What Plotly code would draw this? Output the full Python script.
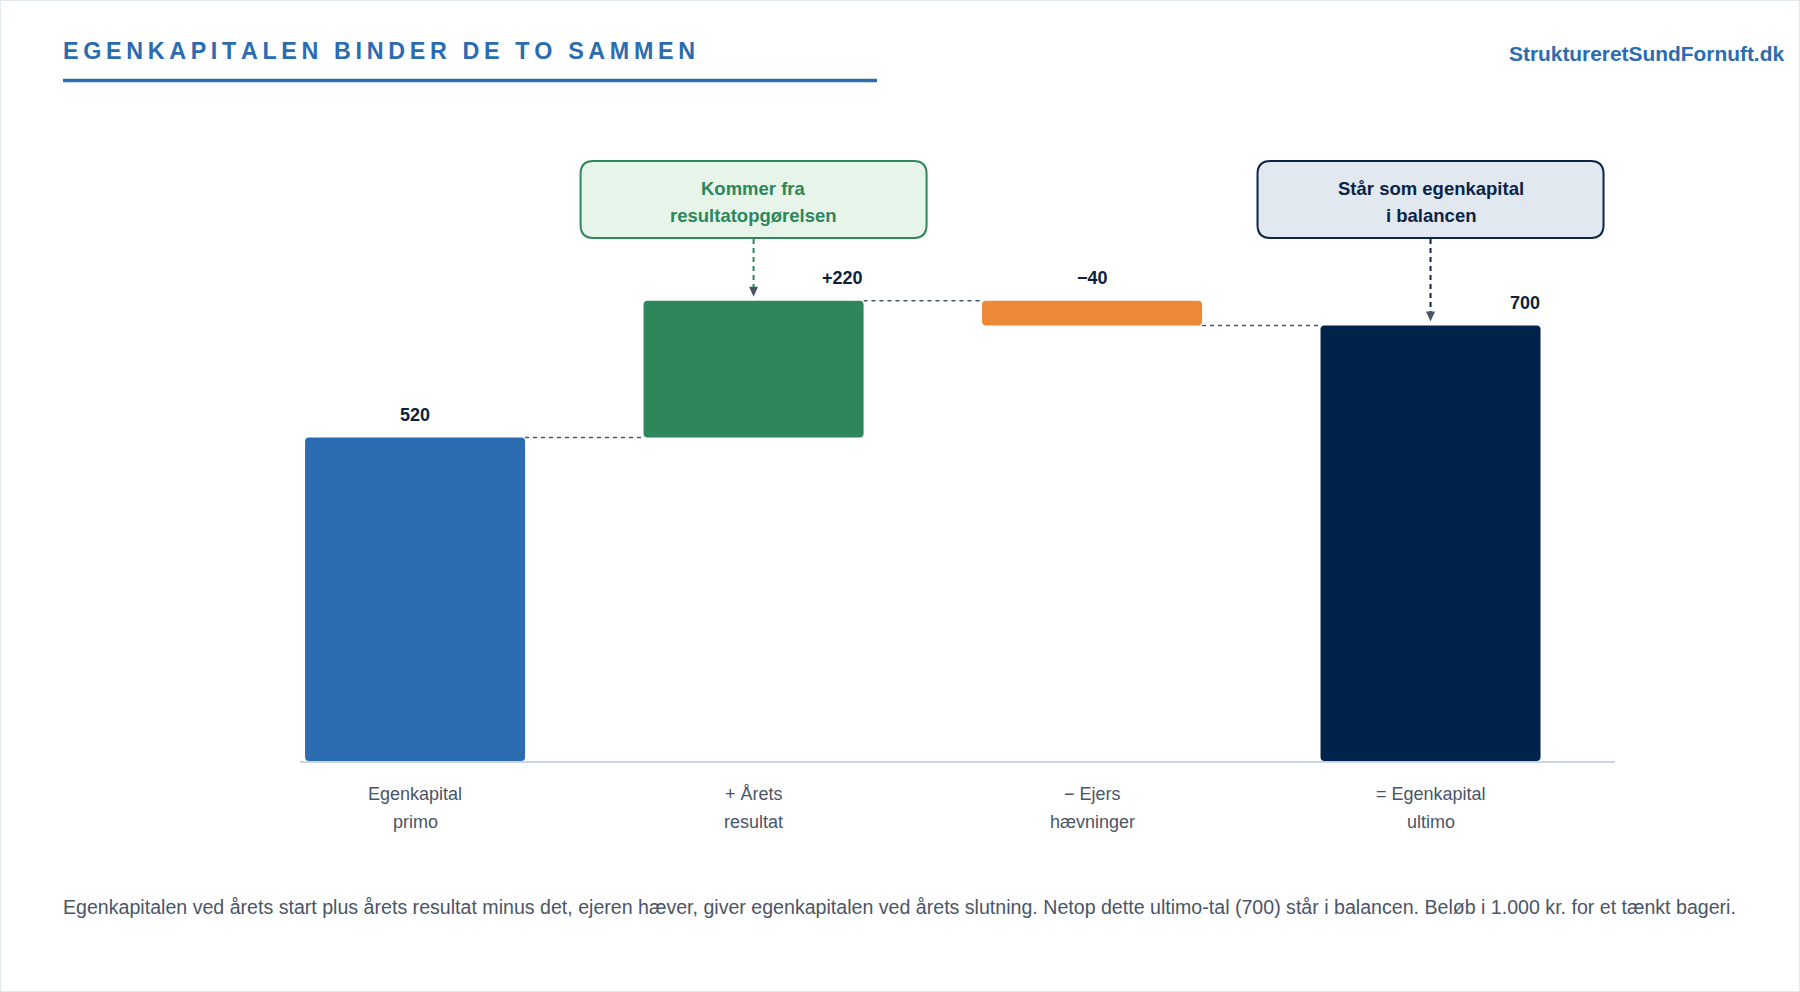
import plotly.graph_objects as go

# ---------------- data ----------------
title_text = "EGENKAPITALEN BINDER DE TO SAMMEN"
site_text = "StruktureretSundFornuft.dk"
footnote_text = ("Egenkapitalen ved årets start plus årets resultat minus det, ejeren hæver, giver "
                 "egenkapitalen ved årets slutning. Netop dette ultimo-tal (700) står i balancen. "
                 "Beløb i 1.000 kr. for et tænkt bageri.")

cat_line1 = ["Egenkapital", "+ Årets", "− Ejers", "= Egenkapital"]
cat_line2 = ["primo", "resultat", "hævninger", "ultimo"]
values = [520, 220, -40, 700]
measures = ["absolute", "relative", "relative", "total"]
value_labels = ["520", "+220", "−40", "700"]
bar_colors = ["#2b6cb0", "#2e865a", "#ed8936", "#00234b"]

callout_bar = [1, 3]
callout_lines = [["Kommer fra", "resultatopgørelsen"], ["Står som egenkapital", "i balancen"]]
callout_fill = ["#e6f4ea", "#e2e8f0"]
callout_border = ["#2e865a", "#0b2447"]
callout_text = ["#2e865a", "#0b2447"]

# ---------------- layout geometry ----------------
W, H = 1800, 992
PL, PR, PT, PB = 300, 1615, 139, 761
XR = [-0.34, 3.545]
YR = [0, 1000]
BW = 0.65
FONT = "Liberation Sans, Arial, sans-serif"
NAVY = "#0b1f3f"
GRAY = "#4a5568"


def xpix(xd):
    return PL + (xd - XR[0]) / (XR[1] - XR[0]) * (PR - PL)


def xpaper(p):
    return (p - PL) / (PR - PL)


def ypaper(p):
    return (PB - p) / (PB - PT)


def ypix(yd):
    return PB - (yd - YR[0]) / (YR[1] - YR[0]) * (PB - PT)


# ---------------- waterfall computation ----------------
bases, heights, levels = [], [], []
running = 0
for v, m in zip(values, measures):
    if m == "absolute":
        bases.append(0)
        heights.append(v)
        running = v
    elif m == "relative":
        bases.append(running)
        heights.append(v)
        running += v
    else:
        bases.append(0)
        heights.append(v)
        running = v
    levels.append(running)

xs = list(range(len(values)))
tops = [max(b, b + h) for b, h in zip(bases, heights)]

fig = go.Figure()
fig.add_trace(go.Bar(
    x=xs, y=heights, base=bases, width=BW,
    marker=dict(color=bar_colors, line=dict(width=0)),
    hoverinfo="skip", showlegend=False,
))

# connectors
for i in range(len(values) - 1):
    fig.add_trace(go.Scatter(
        x=[i + BW / 2, i + 1 - BW / 2], y=[levels[i], levels[i]],
        mode="lines", line=dict(color=GRAY, width=1.5, dash="4px,4px"),
        hoverinfo="skip", showlegend=False,
    ))

annotations = []
shapes = []

# value labels
for i in xs:
    right = i in callout_bar
    annotations.append(dict(
        x=i + BW / 2 if right else i, xref="x", xanchor="right" if right else "center",
        xshift=1 if right else 0,
        y=tops[i], yref="y", yanchor="middle", yshift=23,
        text=f"<b>{value_labels[i]}</b>", showarrow=False,
        font=dict(family=FONT, size=18, color=NAVY),
    ))

# category labels
for i in xs:
    for line, yp in ((cat_line1[i], 794), (cat_line2[i], 822)):
        annotations.append(dict(
            x=i, xref="x", xanchor="center", y=ypaper(yp), yref="paper", yanchor="middle",
            text=line, showarrow=False, font=dict(family=FONT, size=18, color=GRAY),
        ))


def rounded_rect(x0, y0, x1, y1, r):
    pts = lambda x, y: f"{xpaper(x):.6f},{ypaper(y):.6f}"
    return (f"M {pts(x0 + r, y0)} L {pts(x1 - r, y0)} Q {pts(x1, y0)} {pts(x1, y0 + r)} "
            f"L {pts(x1, y1 - r)} Q {pts(x1, y1)} {pts(x1 - r, y1)} "
            f"L {pts(x0 + r, y1)} Q {pts(x0, y1)} {pts(x0, y1 - r)} "
            f"L {pts(x0, y0 + r)} Q {pts(x0, y0)} {pts(x0 + r, y0)} Z")


# callouts
BOX_HW, BOX_T, BOX_B = 173, 161, 238
for k, bi in enumerate(callout_bar):
    cx = xpix(bi)
    shapes.append(dict(type="path", xref="paper", yref="paper",
                       path=rounded_rect(cx - BOX_HW, BOX_T, cx + BOX_HW, BOX_B, 13),
                       fillcolor=callout_fill[k], line=dict(color=callout_border[k], width=2),
                       layer="above"))
    for line, yp in zip(callout_lines[k], (188, 215)):
        annotations.append(dict(
            x=xpaper(cx), xref="paper", xanchor="center", y=ypaper(yp), yref="paper",
            yanchor="middle", text=f"<b>{line}</b>", showarrow=False,
            font=dict(family=FONT, size=18.5, color=callout_text[k]),
        ))
    tip = ypix(tops[bi]) - 4
    shapes.append(dict(type="line", xref="paper", yref="paper",
                       x0=xpaper(cx), x1=xpaper(cx), y0=ypaper(BOX_B + 1), y1=ypaper(tip - 9),
                       line=dict(color=callout_border[k], width=2, dash="5px,4px")))
    shapes.append(dict(type="path", xref="paper", yref="paper",
                       path=(f"M {xpaper(cx):.6f},{ypaper(tip):.6f} "
                             f"L {xpaper(cx - 4.5):.6f},{ypaper(tip - 10):.6f} "
                             f"L {xpaper(cx + 4.5):.6f},{ypaper(tip - 10):.6f} Z"),
                       fillcolor=GRAY, line=dict(width=0)))

# header
annotations.append(dict(
    x=xpaper(60.5), xref="paper", xanchor="left", y=ypaper(51), yref="paper", yanchor="middle",
    text="<b>" + "\u2009".join(list(title_text)) + "</b>", showarrow=False,
    font=dict(family=FONT, size=23.3, color="#2b6cb0"),
))
shapes.append(dict(type="line", xref="paper", yref="paper",
                   x0=xpaper(63), x1=xpaper(877), y0=ypaper(80.5), y1=ypaper(80.5),
                   line=dict(color="#2b6cb0", width=3.5)))
annotations.append(dict(
    x=xpaper(1786), xref="paper", xanchor="right", y=ypaper(53), yref="paper", yanchor="middle",
    text=f"<b>{site_text}</b>", showarrow=False,
    font=dict(family=FONT, size=20.9, color="#2b6cb0"),
))
# footnote
annotations.append(dict(
    x=xpaper(60.5), xref="paper", xanchor="left", y=ypaper(907), yref="paper", yanchor="middle",
    text=footnote_text, showarrow=False, font=dict(family=FONT, size=19.6, color=GRAY),
))
# page border
shapes.append(dict(type="rect", xref="paper", yref="paper",
                   x0=xpaper(0.5), x1=xpaper(W - 0.5), y0=ypaper(0.5), y1=ypaper(H - 0.5),
                   line=dict(color="#e2e8f0", width=1), fillcolor="rgba(0,0,0,0)", layer="below"))

fig.update_layout(
    width=W, height=H,
    margin=dict(l=PL, r=W - PR, t=PT, b=H - PB, pad=0),
    paper_bgcolor="white", plot_bgcolor="white",
    barcornerradius=4,
    xaxis=dict(range=XR, showticklabels=False, showgrid=False, zeroline=False,
               showline=True, linecolor="#cbd5e0", linewidth=2, ticks="", fixedrange=True),
    yaxis=dict(range=YR, showticklabels=False, showgrid=False, zeroline=False,
               showline=False, ticks="", fixedrange=True),
    annotations=annotations, shapes=shapes,
    font=dict(family=FONT),
    showlegend=False,
)

fig.write_html("out.html", config={"displayModeBar": False})
